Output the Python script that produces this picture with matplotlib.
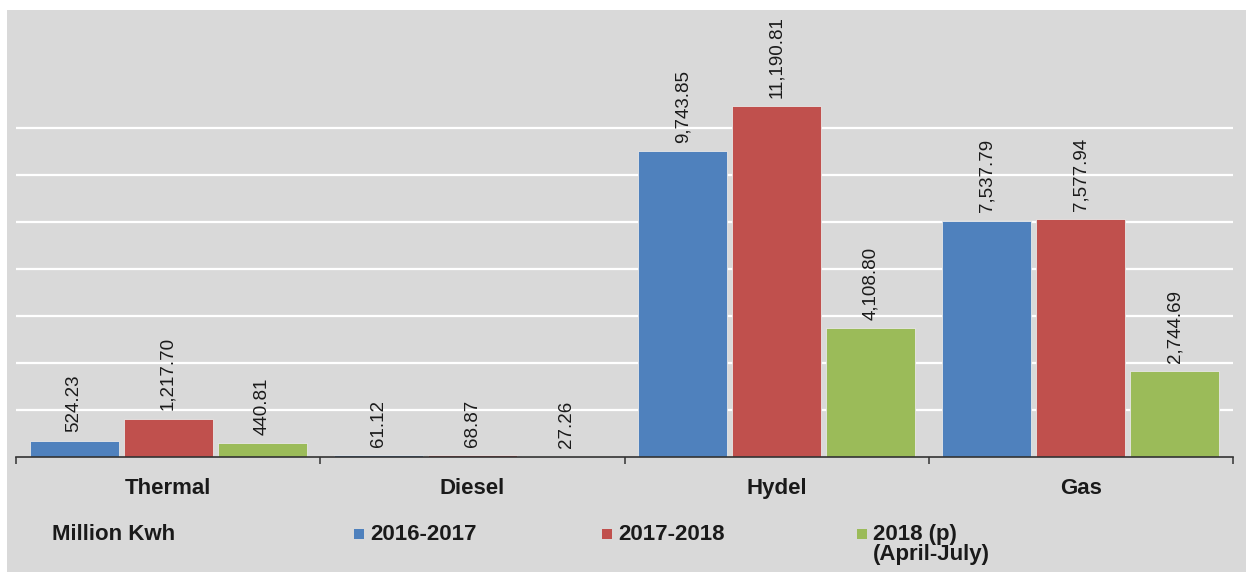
import matplotlib
matplotlib.use("Agg")
import matplotlib.pyplot as plt
from matplotlib.patches import Rectangle
from matplotlib import font_manager
import numpy as np

plt.rcParams['font.family'] = ['Liberation Sans', 'DejaVu Sans']

categories = ["Thermal", "Diesel", "Hydel", "Gas"]
series_names = ["2016-2017", "2017-2018", "2018 (p)\n(April-July)"]
s2016_17 = [524.23, 61.12, 9743.85, 7537.79]
s2017_18 = [1217.70, 68.87, 11190.81, 7577.94]
s2018_p = [440.81, 27.26, 4108.80, 2744.69]
unit_label = "Million Kwh"

colors = ["#4f81bd", "#c0504d", "#9bbb59"]
bg = "#d9d9d9"

installed = {f.name for f in font_manager.fontManager.ttflist}
if "Liberation Sans Narrow" in installed:
    label_family = ["Liberation Sans Narrow", "DejaVu Sans"]
    label_size = 15.5
else:
    label_family = ["Liberation Sans", "DejaVu Sans"]
    label_size = 13.5

W, H = 1248, 572
fig = plt.figure(figsize=(W / 100, H / 100), dpi=100)
fig.patch.set_facecolor("white")
# grey chart area
fig.patches.append(Rectangle((7 / W, 0), (1246 - 7) / W, (H - 10) / H,
                             transform=fig.transFigure, facecolor=bg,
                             edgecolor="none", zorder=-10))

ax_left, ax_right = 16, 1233
ax_bottom, ax_top = 457, 10
ax = fig.add_axes([ax_left / W, (H - ax_bottom) / H,
                   (ax_right - ax_left) / W, (ax_bottom - ax_top) / H])
ax.set_facecolor("none")

x = np.arange(len(categories))
bw = 0.2925
gap = 0.0164
offsets = [-(bw + gap), 0, bw + gap]
all_series = [s2016_17, s2017_18, s2018_p]

for vals, off, c in zip(all_series, offsets, colors):
    bars = ax.bar(x + off, vals, width=bw, color=c, edgecolor="#e8e8e8",
                  linewidth=0.6, zorder=3)
    for b, v in zip(bars, vals):
        ax.annotate(f"{v:,.2f}", (b.get_x() + b.get_width() / 2, v),
                    xytext=(0, 6), textcoords="offset points",
                    rotation=90, ha="center", va="bottom",
                    fontsize=label_size, family=label_family,
                    color="#1a1a1a", zorder=4)

ax.set_xlim(-0.5, len(categories) - 0.5)
ax.set_ylim(0, 14250)
ax.set_yticks(np.arange(1500, 10501, 1500))
ax.yaxis.grid(True, color="white", linewidth=1.6, zorder=1)
ax.tick_params(axis="y", length=0, labelleft=False)

for s in ["top", "right", "left"]:
    ax.spines[s].set_visible(False)
ax.spines["bottom"].set_color("#333333")
ax.spines["bottom"].set_linewidth(1.2)
ax.spines["bottom"].set_zorder(5)

ax.set_xticks(np.arange(len(categories) + 1) - 0.5)
ax.set_xticklabels([])
ax.tick_params(axis="x", which="major", length=5, width=1.1, color="#333333",
               direction="out")
ax.set_xticks(x, minor=True)
ax.set_xticklabels(categories, minor=True, fontsize=16, fontweight="bold",
                   color="#1a1a1a")
ax.tick_params(axis="x", which="minor", length=0, pad=15)

# legend row
ly = 1 - 534 / H
fig.text(52 / W, ly, unit_label, fontsize=16, fontweight="bold",
         color="#1a1a1a", va="center", ha="left")
leg_x = [354, 602, 857]
for lx, name, c in zip(leg_x, series_names, colors):
    fig.patches.append(Rectangle((lx / W, ly - 5 / H), 10 / W, 10 / H,
                                 transform=fig.transFigure, facecolor=c,
                                 edgecolor="none", zorder=2))
    fig.text((lx + 16) / W, ly + 10 / H, name, fontsize=16, fontweight="bold",
             color="#1a1a1a", va="top", ha="left", linespacing=0.95)

fig.savefig("out.png", dpi=100, facecolor=fig.get_facecolor())
